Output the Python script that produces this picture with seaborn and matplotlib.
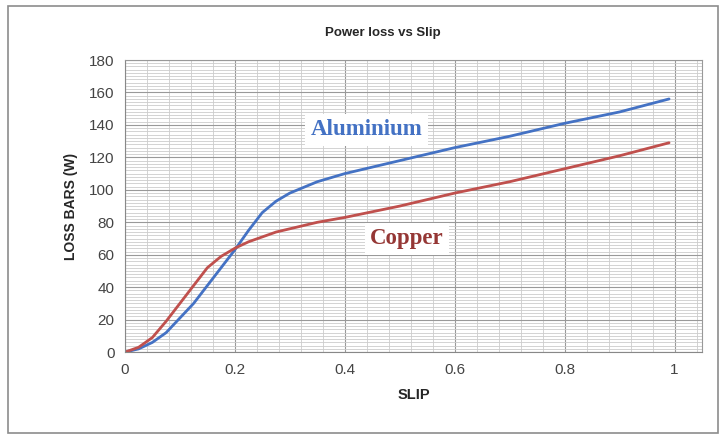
import pandas as pd
import matplotlib.pyplot as plt
import seaborn as sns
from matplotlib.patches import Rectangle
from matplotlib.ticker import MultipleLocator

sns.set_style("white")
plt.rcParams['font.family'] = ['Liberation Sans', 'DejaVu Sans']

# === Data ===
slip = [0, 0.025, 0.05, 0.075, 0.1, 0.125, 0.15, 0.175, 0.2, 0.225, 0.25,
        0.275, 0.3, 0.35, 0.4, 0.5, 0.6, 0.7, 0.8, 0.9, 0.99]
aluminium = [0, 2, 6, 12, 21, 30, 41, 52, 63, 75, 86,
             93, 98, 105, 110, 118, 126, 133, 141, 148, 156]
copper = [0, 3, 9, 19, 30, 41, 52, 59, 64, 68, 71,
          74, 76, 80, 83, 90, 98, 105, 113, 121, 129]

df = pd.DataFrame({'SLIP': slip * 2,
                   'LOSS': aluminium + copper,
                   'Material': ['Aluminium'] * len(slip) + ['Copper'] * len(slip)})

fig = plt.figure(figsize=(7.26, 4.38), dpi=100)
ax = fig.add_axes([0.172, 0.196, 0.795, 0.667])

sns.lineplot(data=df, x='SLIP', y='LOSS', hue='Material',
             palette={'Aluminium': '#4472C4', 'Copper': '#C0504D'},
             linewidth=2, legend=False, ax=ax)

ax.set_xlim(0, 1.05)
ax.set_ylim(0, 180)
ax.xaxis.set_major_locator(MultipleLocator(0.2))
ax.xaxis.set_minor_locator(MultipleLocator(0.04))
ax.yaxis.set_major_locator(MultipleLocator(20))
ax.yaxis.set_minor_locator(MultipleLocator(2))
ax.grid(which='major', color='#999999', linewidth=0.8)
ax.grid(which='minor', color='#cccccc', linewidth=0.6)
ax.set_axisbelow(True)
ax.xaxis.set_major_formatter(plt.FuncFormatter(lambda v, p: f'{v:g}'))
for s in ['top', 'right']:
    ax.spines[s].set_color('#999999')
for s in ['left', 'bottom']:
    ax.spines[s].set_color('#888888')
ax.tick_params(axis='both', which='major', labelsize=11, colors='#444444', length=4)
ax.tick_params(axis='both', which='minor', length=0)

ax.set_xlabel('SLIP', fontsize=10.5, fontweight='bold', labelpad=8)
ax.set_ylabel('LOSS BARS (W)', fontsize=10, fontweight='bold', labelpad=8)
fig.text(0.527, 0.925, 'Power loss vs Slip', ha='center', va='center',
         fontsize=9.5, fontweight='bold')

ax.text(0.44, 137, 'Aluminium', color='#4472C4', fontsize=16.5, fontweight='bold',
        family='Liberation Serif', ha='center', va='center',
        bbox=dict(facecolor='white', edgecolor='none', pad=4))
ax.text(0.513, 70, 'Copper', color='#953735', fontsize=16.5, fontweight='bold',
        family='Liberation Serif', ha='center', va='center',
        bbox=dict(facecolor='white', edgecolor='none', pad=4))

fig.patches.append(Rectangle((0.011, 0.012), 0.978, 0.975, transform=fig.transFigure,
                             fill=False, edgecolor='#8c8c8c', linewidth=1.2))

fig.savefig('out.png', dpi=100)
